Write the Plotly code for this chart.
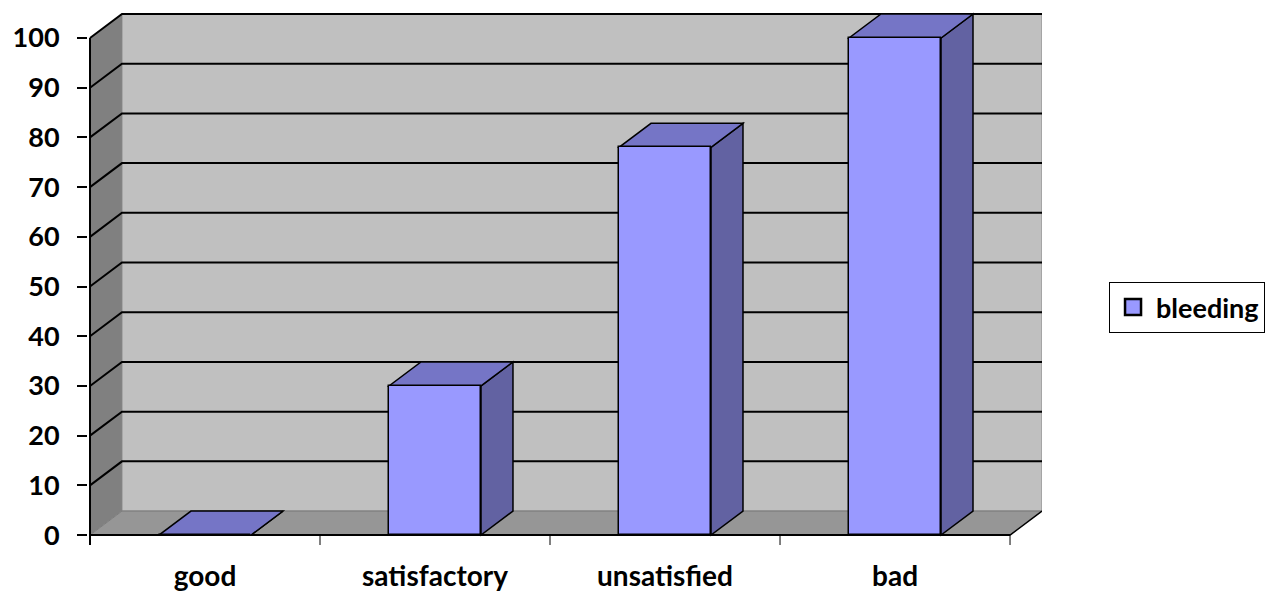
import plotly.graph_objects as go

# ---- data ----
categories = ["good", "satisfactory", "unsatisfied", "bad"]
values = [0, 30, 78, 100]
series_name = "bleeding"
y_ticks = [0, 10, 20, 30, 40, 50, 60, 70, 80, 90, 100]

# ---- style ----
FRONT = "#9999ff"
TOP = "#7575c6"
SIDE = "#6262a2"
WALL = "#c0c0c0"
SIDEWALL = "#808080"
FLOOR = "#969696"
FONT = "Lato"

n = len(categories)
xs = list(range(n))
bar_w = 0.4          # bar width in category units
dx = 0.139           # 3-D depth, category units
dy = 4.83            # 3-D depth, value units
y_max = y_ticks[-1]
x_left = -0.5
x_right = n - 0.5
tick_drop = 2.0      # length of category boundary ticks below floor (value units)

px_per_cat = 230.0
px_per_unit = 4.97
pad_x = 2 / px_per_cat
pad_y = 2 / px_per_unit
x_range = [x_left - pad_x, x_right + dx]
y_range = [-tick_drop, y_max + dy + pad_y]

W, H = 1268, 591
l_m = 88
t_m = 12
plot_w = (x_range[1] - x_range[0]) * px_per_cat
plot_h = (y_range[1] - y_range[0]) * px_per_unit
r_m = W - l_m - plot_w
b_m = H - t_m - plot_h


def poly(pts, closed=True):
    s = "M " + " L ".join(f"{x},{y}" for x, y in pts)
    return s + (" Z" if closed else "")


shapes = []
# back wall
shapes.append(dict(type="rect", x0=x_left + dx, x1=x_right + dx, y0=dy, y1=y_max + dy,
                   fillcolor=WALL, line=dict(color="#8a8a8a", width=1), layer="below"))
# left wall
shapes.append(dict(type="path", path=poly([(x_left, 0), (x_left, y_max), (x_left + dx, y_max + dy),
                                           (x_left + dx, dy)]),
                   fillcolor=SIDEWALL, line=dict(width=0), layer="below"))
# floor
shapes.append(dict(type="path", path=poly([(x_left, 0), (x_right, 0), (x_right + dx, dy), (x_left + dx, dy)]),
                   fillcolor=FLOOR, line=dict(color="#7a7a7a", width=1), layer="below"))
# gridlines
for v in y_ticks[1:]:
    shapes.append(dict(type="path",
                       path=poly([(x_left, v), (x_left + dx, v + dy), (x_right + dx, v + dy)], closed=False),
                       line=dict(color="black", width=2), layer="below"))
# floor front edges
shapes.append(dict(type="line", x0=x_left, x1=x_right, y0=0, y1=0,
                   line=dict(color="black", width=2), layer="below"))
shapes.append(dict(type="line", x0=x_right, x1=x_right + dx, y0=0, y1=dy,
                   line=dict(color="black", width=1.5), layer="below"))
# value axis line
shapes.append(dict(type="line", x0=x_left, x1=x_left, y0=-tick_drop, y1=y_max,
                   line=dict(color="black", width=2), layer="below"))
# category boundary ticks
for k in range(n + 1):
    b = x_left + k
    shapes.append(dict(type="line", x0=b, x1=b, y0=0, y1=-tick_drop,
                       line=dict(color="black", width=1), layer="below"))
# bar tops and sides
for x, v in zip(xs, values):
    xl, xr = x - bar_w / 2, x + bar_w / 2
    shapes.append(dict(type="path",
                       path=poly([(xr, 0), (xr, v), (xr + dx, v + dy), (xr + dx, dy)]),
                       fillcolor=SIDE, line=dict(color="black", width=1.5), layer="below"))
    shapes.append(dict(type="path",
                       path=poly([(xl, v), (xr, v), (xr + dx, v + dy), (xl + dx, v + dy)]),
                       fillcolor=TOP, line=dict(color="black", width=1.5), layer="below"))

fig = go.Figure()
fig.add_trace(go.Bar(
    x=xs, y=values, width=bar_w, name=series_name, showlegend=False,
    legendgroup="s",
    marker=dict(color=FRONT, line=dict(color="black", width=1.5)),
    hoverinfo="skip",
))
# legend entry (square key like the original)
fig.add_trace(go.Scatter(
    x=[None], y=[None], mode="markers", name=series_name, legendgroup="s",
    marker=dict(symbol="square", size=17, color=FRONT, line=dict(color="black", width=2.5)),
    hoverinfo="skip",
))

fig.update_layout(
    width=W, height=H,
    margin=dict(l=l_m, r=r_m, t=t_m, b=b_m, pad=0, autoexpand=False),
    paper_bgcolor="white",
    plot_bgcolor="rgba(0,0,0,0)",
    shapes=shapes,
    showlegend=True,
    legend=dict(
        x=(1109 - l_m) / plot_w, y=(H - b_m - 282) / plot_h,
        xanchor="left", yanchor="top",
        bordercolor="black", borderwidth=1, bgcolor="white",
        font=dict(family=FONT, size=27, color="black", weight="bold"),
        itemwidth=36,
    ),
    xaxis=dict(
        range=x_range, tickvals=xs, ticktext=categories,
        showgrid=False, zeroline=False, showline=False, ticks="",
        tickfont=dict(family=FONT, size=28, color="black", weight="bold"),
        ticklabelstandoff=12, automargin=False,
        fixedrange=True,
    ),
    yaxis=dict(
        range=y_range, tickvals=y_ticks, ticktext=[str(t) for t in y_ticks],
        showgrid=False, zeroline=False, showline=False,
        ticks="outside", ticklen=10, tickwidth=1.5, tickcolor="black",
        tickfont=dict(family=FONT, size=27, color="black", weight="bold"),
        ticklabelstandoff=12, automargin=False,
        fixedrange=True,
    ),
    bargap=0,
)

fig.write_html("out.html", config={"displayModeBar": False},
               post_script="document.body.style.margin='0';")
